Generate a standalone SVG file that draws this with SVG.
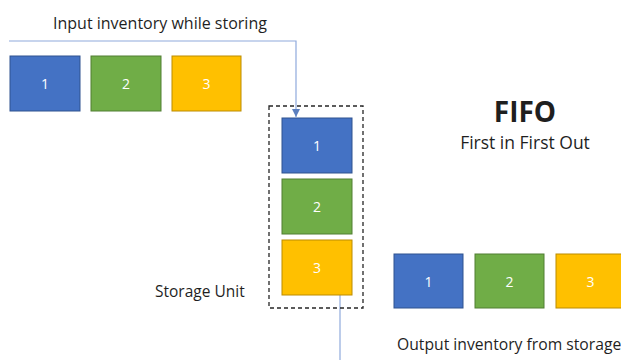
<svg xmlns="http://www.w3.org/2000/svg" width="621" height="360" viewBox="0 0 621 360">
  <style>
    .lbl { font-family: "Open Sans", "Liberation Sans", sans-serif; fill: #1f1f1f; }
    .num { font-family: "Open Sans", "Liberation Sans", sans-serif; font-size: 14px; fill: #ffffff; text-anchor: middle; dominant-baseline: central; }
    .b1 { fill: #4472C4; stroke: #2F528F; stroke-width: 1; }
    .b2 { fill: #70AD47; stroke: #507E32; stroke-width: 1; }
    .b3 { fill: #FFC000; stroke: #BC8C00; stroke-width: 1; }
    .wire { fill: none; stroke: #8FAADC; stroke-width: 1.2; }
  </style>
  <defs>
    <marker id="arrow" viewBox="0 0 10 10" refX="10" refY="5" markerWidth="7" markerHeight="7" orient="auto">
      <path d="M0,0 L10,5 L0,10 z" fill="#5B7FBF"/>
    </marker>
  </defs>
  <rect width="621" height="360" fill="#ffffff"/>

  <!-- labels -->
  <text class="lbl" x="53" y="29" font-size="16">Input inventory while storing</text>
  <text class="lbl" x="525" y="122" font-size="28" font-weight="bold" text-anchor="middle">FIFO</text>
  <text class="lbl" x="525" y="149" font-size="17.5" text-anchor="middle">First in First Out</text>
  <text class="lbl" x="155" y="297" font-size="15.5">Storage Unit</text>
  <text class="lbl" x="397" y="350" font-size="15.7">Output inventory from storage</text>

  <!-- connectors -->
  <g id="connectors">
    <path class="wire" d="M9,41 H296 V117" marker-end="url(#arrow)"/>
    <path class="wire" d="M340,295 V360"/>
  </g>

  <!-- input row -->
  <g id="in-1"><rect class="b1" x="10" y="56" width="70" height="55"/><text class="num" x="45" y="83.5">1</text></g>
  <g id="in-2"><rect class="b2" x="91" y="56" width="70" height="55"/><text class="num" x="126" y="83.5">2</text></g>
  <g id="in-3"><rect class="b3" x="172" y="56" width="69" height="55"/><text class="num" x="206.5" y="83.5">3</text></g>

  <!-- storage unit -->
  <g id="storage">
    <rect x="269" y="106" width="94" height="202" fill="none" stroke="#262626" stroke-width="1.3" stroke-dasharray="4,3"/>
  </g>
  <g id="st-1"><rect class="b1" x="282" y="118" width="70" height="55"/><text class="num" x="317" y="145.5">1</text></g>
  <g id="st-2"><rect class="b2" x="282" y="179" width="70" height="55"/><text class="num" x="317" y="206.5">2</text></g>
  <g id="st-3"><rect class="b3" x="282" y="240" width="70" height="55"/><text class="num" x="317" y="267.5">3</text></g>

  <!-- output row -->
  <g id="out-1"><rect class="b1" x="394" y="254" width="69" height="54"/><text class="num" x="428.5" y="281">1</text></g>
  <g id="out-2"><rect class="b2" x="475" y="254" width="69" height="54"/><text class="num" x="509.5" y="281">2</text></g>
  <g id="out-3"><rect class="b3" x="556" y="254" width="69" height="54"/><text class="num" x="590.5" y="281">3</text></g>
</svg>
